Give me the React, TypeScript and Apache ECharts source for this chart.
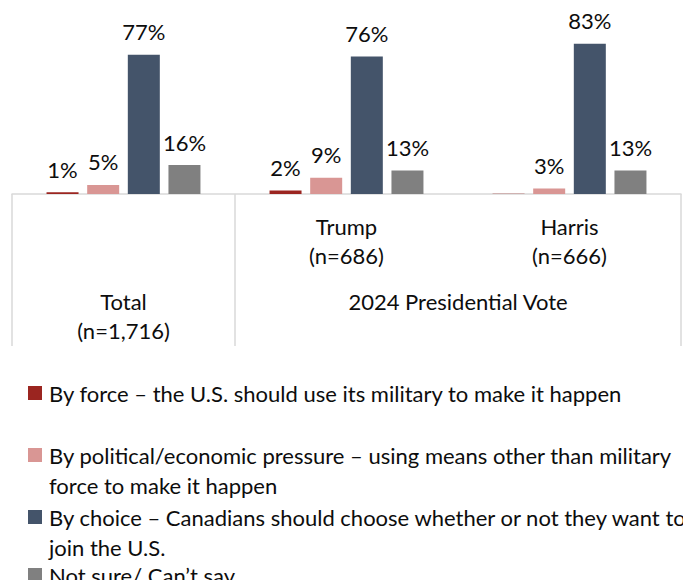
import React, { useEffect, useRef } from "react";
import * as echarts from "echarts";

const categories = ["Total", "Trump", "Harris"];
const sampleSizes = ["(n=1,716)", "(n=686)", "(n=666)"];
const groupLabel = "2024 Presidential Vote";
const seriesNames = [
  "By force – the U.S. should use its military to make it happen",
  "By political/economic pressure – using means other than military\nforce to make it happen",
  "By choice – Canadians should choose whether or not they want to\njoin the U.S.",
  "Not sure/ Can’t say",
];
const byForce = [1, 2, 0.2];
const byPressure = [5, 9, 3];
const byChoice = [77, 76, 83];
const notSure = [16, 13, 13];
const colors = ["#9B2520", "#D99694", "#44546A", "#808080"];

const FONT = "Lato, 'Open Sans', sans-serif";
const TEXT = "#0d0d0d";
const FS = 22;

export default function App() {
  const ref = useRef<HTMLDivElement>(null);
  useEffect(() => {
    if (!ref.current) return;
    const chart = echarts.init(ref.current, undefined, { renderer: "svg" });
    const seriesData = [byForce, byPressure, byChoice, notSure];
    const firstLineCenters = [393, 455, 517, 575];
    const graphic: any[] = [];
    seriesNames.forEach((n, i) => {
      const c = firstLineCenters[i];
      const multi = n.indexOf("\n") >= 0;
      const lh = multi ? 30 : 26;
      graphic.push({
        type: "rect",
        left: 28,
        top: c - 7,
        shape: { width: 14, height: 14 },
        style: { fill: colors[i] },
      });
      graphic.push({
        type: "text",
        left: 49,
        top: c - lh / 2,
        style: {
          text: n,
          fontSize: FS,
          fontFamily: FONT,
          lineHeight: lh,
          fill: TEXT,
        },
      });
    });
    // second-level axis slots (half-category positions)
    const slotLabels = ["", categories[0] + "\n" + sampleSizes[0], "", "", groupLabel, "", ""];
    const slotIds = slotLabels.map((_, i) => "s" + i);
    chart.setOption({
      animation: false,
      grid: { left: 12, right: 10, top: 13, bottom: 394, containLabel: false },
      xAxis: [
        {
          type: "category",
          data: categories,
          axisLine: { show: true, lineStyle: { color: "#D9D9D9", width: 1.5 } },
          axisTick: { show: false },
          axisLabel: {
            interval: 0,
            margin: 18,
            fontSize: FS,
            fontFamily: FONT,
            lineHeight: 29,
            color: TEXT,
            formatter: (v: string) => {
              const i = categories.indexOf(v);
              return i === 0 ? "" : v + "\n" + sampleSizes[i];
            },
          },
        },
        {
          type: "category",
          position: "bottom",
          boundaryGap: false,
          data: slotIds,
          axisLine: { show: false },
          axisTick: {
            show: true,
            length: 152,
            interval: (idx: number) => idx === 0 || idx === 2 || idx === 6,
            lineStyle: { color: "#D9D9D9", width: 1.5 },
          },
          axisLabel: {
            interval: 0,
            margin: 93,
            fontSize: FS,
            fontFamily: FONT,
            lineHeight: 29,
            color: TEXT,
            formatter: (v: string) => slotLabels[slotIds.indexOf(v)],
          },
        },
      ],
      yAxis: { type: "value", min: 0, max: 100, show: false, splitLine: { show: false } },
      series: seriesNames.map((n, i) => ({
        type: "bar",
        name: n.replace("\n", " "),
        xAxisIndex: 0,
        data: seriesData[i],
        barWidth: 32,
        barGap: "27%",
        itemStyle: { color: colors[i] },
        label: {
          show: true,
          position: "top",
          distance: 12,
          fontSize: FS,
          fontFamily: FONT,
          color: TEXT,
          formatter: (p: any) => (p.value < 0.5 ? "" : Math.round(p.value) + "%"),
        },
      })),
      graphic,
    });
    return () => chart.dispose();
  }, []);
  return <div ref={ref} style={{ width: 691, height: 588, margin: -8 }} />;
}
